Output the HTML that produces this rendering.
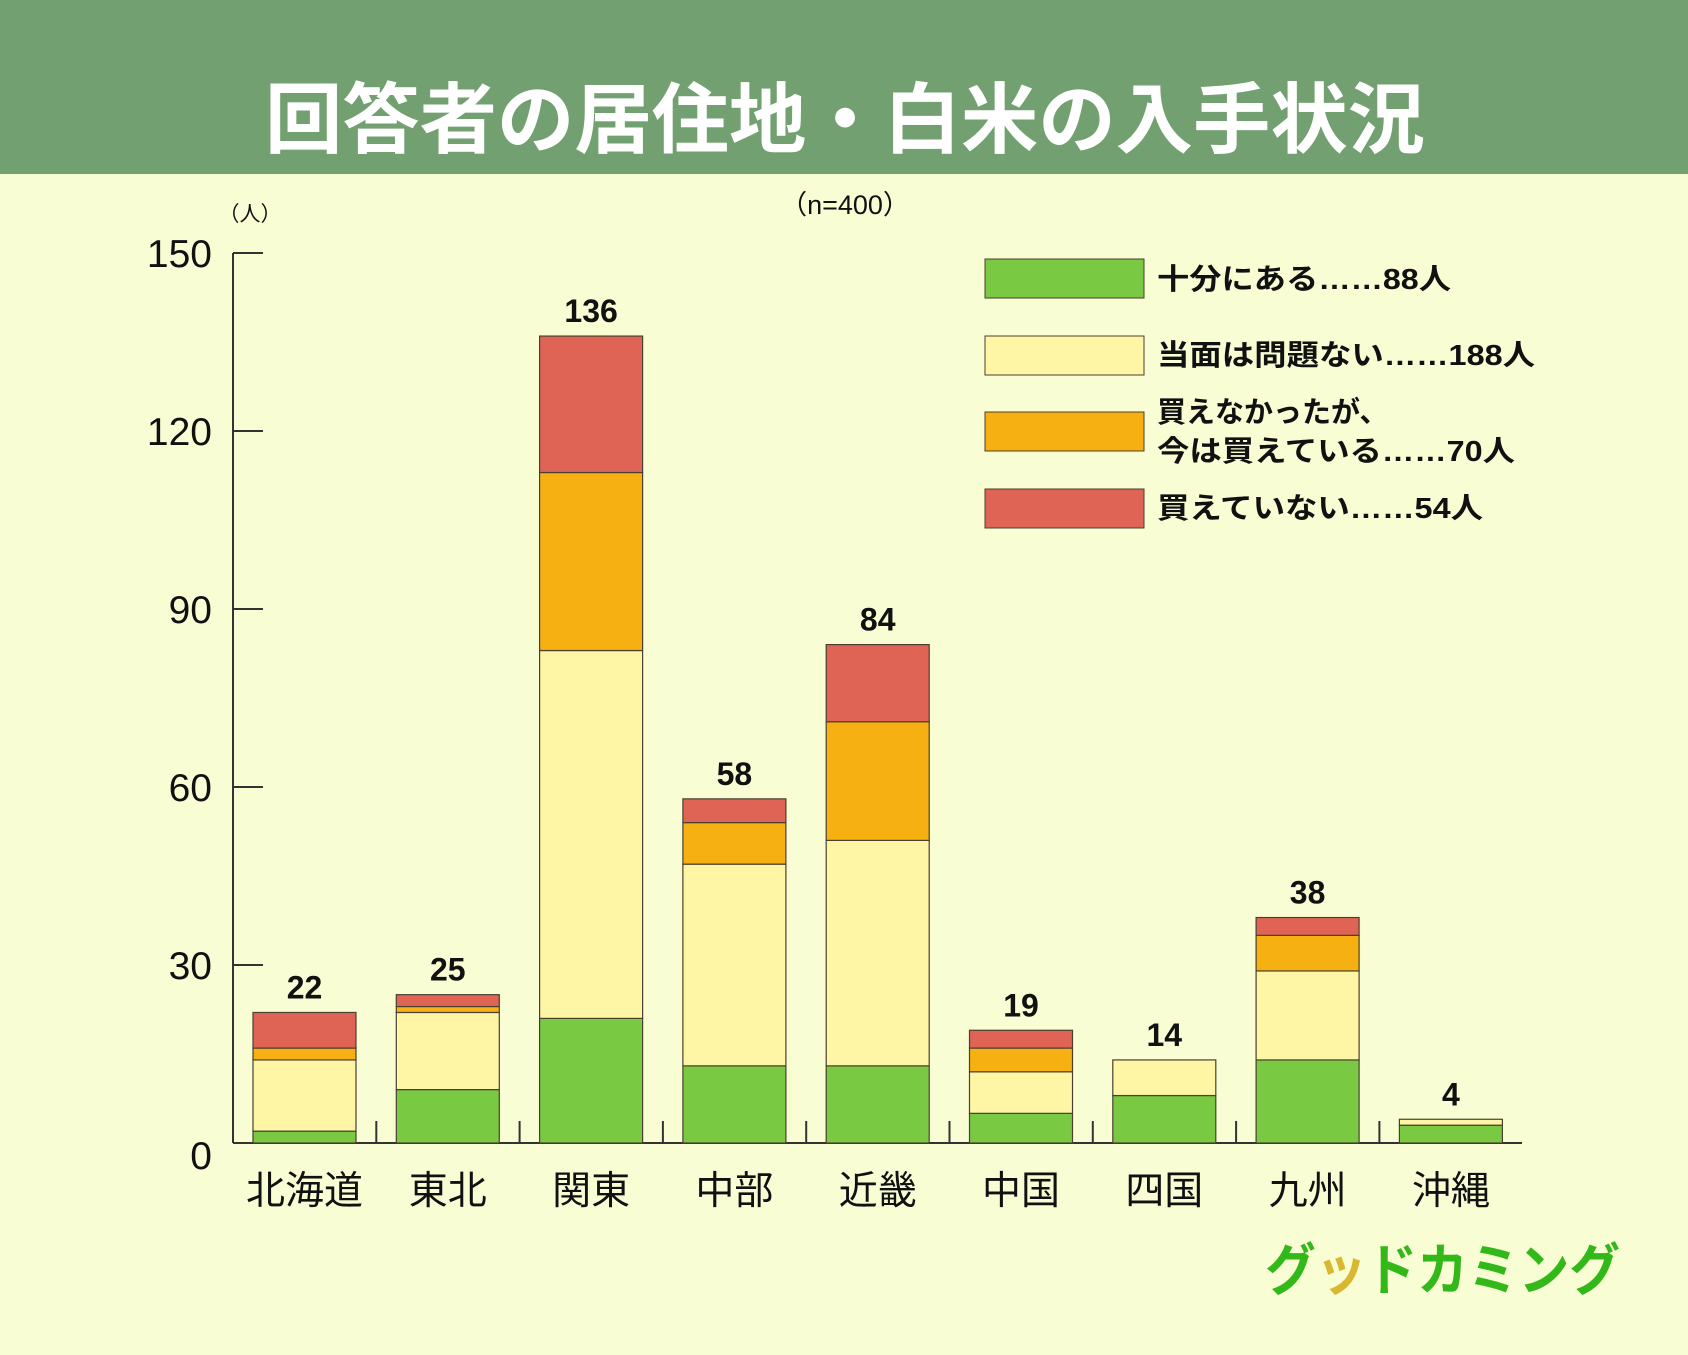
<!DOCTYPE html>
<html><head><meta charset="utf-8"><style>
body{margin:0;width:1688px;height:1350px;overflow:hidden;background:#f8fdd3;font-family:"Liberation Sans","Noto Sans CJK JP",sans-serif}
svg text{font-family:"Liberation Sans","Noto Sans CJK JP",sans-serif}
</style></head><body>
<svg id="chart" width="1688" height="1350" xmlns="http://www.w3.org/2000/svg">
<rect x="0" y="0" width="1688" height="1350" fill="#f8fdd3"/>
<rect x="0" y="0" width="1688" height="174" fill="#72a070"/>
<text x="845" y="147" font-size="77" font-weight="bold" fill="#fff" text-anchor="middle" textLength="1160" lengthAdjust="spacingAndGlyphs">回答者の居住地・白米の入手状況</text>
<text x="845" y="214" font-size="27" fill="#111" text-anchor="middle">（n=400）</text>
<text x="250" y="221" font-size="21" fill="#111" text-anchor="middle">（人）</text>
<g id="axes"></g>
<g id="bars"></g>
<g id="legend">
<rect x="985" y="259" width="159" height="39" fill="#7ac943" stroke="#4a4030" stroke-width="1"/>
<text x="1157" y="289" font-size="29" font-weight="bold" fill="#111" textLength="294" lengthAdjust="spacingAndGlyphs">十分にある……88人</text>
<rect x="985" y="336" width="159" height="39" fill="#fff6a5" stroke="#4a4030" stroke-width="1"/>
<text x="1157" y="365" font-size="29" font-weight="bold" fill="#111" textLength="378" lengthAdjust="spacingAndGlyphs">当面は問題ない……188人</text>
<rect x="985" y="412" width="159" height="39" fill="#f6b012" stroke="#4a4030" stroke-width="1"/>
<text x="1157" y="422" font-size="29" font-weight="bold" fill="#111">買えなかったが、</text>
<text x="1157" y="461" font-size="29" font-weight="bold" fill="#111" textLength="358" lengthAdjust="spacingAndGlyphs">今は買えている……70人</text>
<rect x="985" y="489" width="159" height="39" fill="#e06456" stroke="#4a4030" stroke-width="1"/>
<text x="1157" y="518" font-size="29" font-weight="bold" fill="#111" textLength="326" lengthAdjust="spacingAndGlyphs">買えていない……54人</text>
</g>
<text x="1265" y="1290" font-size="56" font-weight="bold" fill="#33b81a" textLength="355" lengthAdjust="spacingAndGlyphs">グ<tspan fill="#d8b830">ッ</tspan>ドカミング</text>
</svg>
<script>
const categories = ['北海道','東北','関東','中部','近畿','中国','四国','九州','沖縄'];
const sufficient = [2,9,21,13,13,5,8,14,3];
const okForNow = [12,13,62,34,38,7,6,15,1];
const nowAvailable = [2,1,30,7,20,4,0,6,0];
const unavailable = [6,2,23,4,13,3,0,3,0];
const yTicks = [0,30,60,90,120,150];

const NS='http://www.w3.org/2000/svg';
const y0=1143, yTop=253, yMax=150, axisX=233, axisEnd=1522, barStart=253, pitch=143.3, barW=103;
function yScale(v){return y0-(v/yMax)*(y0-yTop);}
function xScale(i){return barStart+i*pitch;}
function mk(tag,attrs,parent){const e=document.createElementNS(NS,tag);for(const k in attrs)e.setAttribute(k,attrs[k]);parent.appendChild(e);return e;}
const axes=document.getElementById('axes'), bars=document.getElementById('bars');
let ax=mk('line',{x1:axisX,y1:yTop,x2:axisX,y2:y0,stroke:'#333',"stroke-width":2},axes);


let bx=mk('line',{x1:axisX,y1:y0,x2:axisEnd,y2:y0,stroke:'#333',"stroke-width":2},axes);


yTicks.forEach(t=>{
  const y=yScale(t);
  if(t>0){const l=mk('line',{x1:axisX,y1:y,x2:axisX+30,y2:y,stroke:'#333',"stroke-width":2},axes);
  
  }
  const tx=mk('text',{x:212,y:y+14+(t===0?12:0),"font-size":39,fill:'#111',"text-anchor":'end'},axes);
  tx.textContent=t;
  
  
});
for(let i=1;i<categories.length;i++){
  const x=xScale(i)-20;
  const l=mk('line',{x1:x,y1:y0,x2:x,y2:y0-22,stroke:'#333',"stroke-width":2},axes);
  
  
}
const series=[[sufficient,'#7ac943','sufficient'],[okForNow,'#fff6a5','ok-for-now'],[nowAvailable,'#f6b012','now-available'],[unavailable,'#e06456','unavailable']];
categories.forEach((c,i)=>{
  let acc=0;const x=xScale(i);
  series.forEach(([arr,col,nm])=>{
    const v=arr[i];if(v<=0)return;
    const r=mk('rect',{x:x,y:yScale(acc+v),width:barW,height:yScale(acc)-yScale(acc+v),fill:col,stroke:'#4a4030',"stroke-width":1.2},bars);
    
    
    acc+=v;
  });
  const vt=mk('text',{x:x+barW/2,y:yScale(acc)-14,"font-size":32,"font-weight":'bold',fill:'#111',"text-anchor":'middle'},bars);
  vt.textContent=acc;
  
  
  const ct=mk('text',{x:x+barW/2,y:1204,"font-size":39,fill:'#111',"text-anchor":'middle'},bars);
  ct.textContent=c;
  
  
});
</script>
</body></html>
